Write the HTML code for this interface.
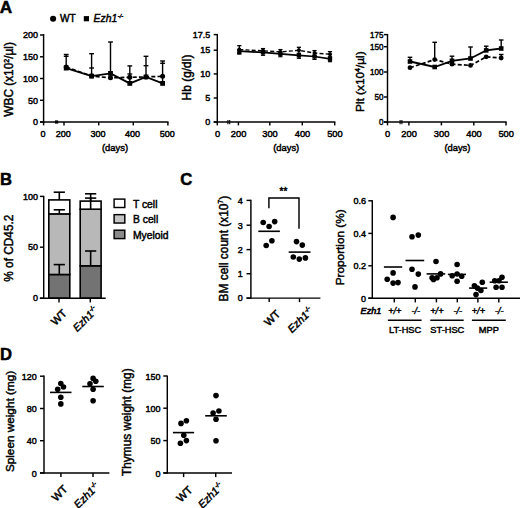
<!DOCTYPE html>
<html><head><meta charset="utf-8"><title>Figure</title>
<style>
html,body{margin:0;padding:0;background:#fff;}
body{width:520px;height:508px;overflow:hidden;font-family:"Liberation Sans",sans-serif;}
svg{display:block;}
svg text{font-family:"Liberation Sans",sans-serif;fill:#000;stroke:#000;stroke-width:0.45px;}
</style></head><body>
<svg width="520" height="508" viewBox="0 0 520 508">
<rect width="520" height="508" fill="#fff"/>
<text transform="translate(-0.2 12.6) scale(1.0 1)" font-size="17.2" font-weight="bold" style="stroke-width:0.5px">A</text>
<text transform="translate(0.0 184.8) scale(0.97 1)" font-size="17.2" font-weight="bold" style="stroke-width:0.5px">B</text>
<text transform="translate(180.3 184.7) scale(0.97 1)" font-size="17.2" font-weight="bold" style="stroke-width:0.5px">C</text>
<text transform="translate(0.0 359.5) scale(0.97 1)" font-size="17.2" font-weight="bold" style="stroke-width:0.5px">D</text>
<circle cx="53.10" cy="18.70" r="3.05" fill="#000"/>
<text transform="translate(60.00 22.40)" font-size="10.1" text-anchor="start" font-weight="normal" font-style="normal" >WT</text>
<rect x="83.80" y="16.10" width="5.2" height="5.2" fill="#000"/>
<text transform="translate(93.60 22.40)" font-size="10.35" text-anchor="start" font-weight="normal" font-style="italic" >Ezh1<tspan font-size="5.6" dy="-4.4" dx="0.6">-/-</tspan></text>
<line x1="43.60" y1="34.00" x2="43.60" y2="122.60" stroke="#000" stroke-width="1.45" stroke-linecap="butt"/>
<line x1="40.00" y1="35.00" x2="43.60" y2="35.00" stroke="#000" stroke-width="1.45" stroke-linecap="butt"/>
<text transform="translate(38.00 38.20)" font-size="9" text-anchor="end" font-weight="normal" font-style="normal" >200</text>
<line x1="40.00" y1="56.80" x2="43.60" y2="56.80" stroke="#000" stroke-width="1.45" stroke-linecap="butt"/>
<text transform="translate(38.00 60.00)" font-size="9" text-anchor="end" font-weight="normal" font-style="normal" >150</text>
<line x1="40.00" y1="78.50" x2="43.60" y2="78.50" stroke="#000" stroke-width="1.45" stroke-linecap="butt"/>
<text transform="translate(38.00 81.70)" font-size="9" text-anchor="end" font-weight="normal" font-style="normal" >100</text>
<line x1="40.00" y1="100.30" x2="43.60" y2="100.30" stroke="#000" stroke-width="1.45" stroke-linecap="butt"/>
<text transform="translate(38.00 103.50)" font-size="9" text-anchor="end" font-weight="normal" font-style="normal" >50</text>
<line x1="40.00" y1="122.00" x2="43.60" y2="122.00" stroke="#000" stroke-width="1.45" stroke-linecap="butt"/>
<text transform="translate(38.00 125.20)" font-size="9" text-anchor="end" font-weight="normal" font-style="normal" >0</text>
<line x1="40.00" y1="122.00" x2="168.50" y2="122.00" stroke="#000" stroke-width="1.45" stroke-linecap="butt"/>
<line x1="43.60" y1="122.00" x2="43.60" y2="125.40" stroke="#000" stroke-width="1.45" stroke-linecap="butt"/>
<text transform="translate(42.90 137.00)" font-size="9.05" text-anchor="middle" font-weight="normal" font-style="normal" >0</text>
<line x1="64.00" y1="122.00" x2="64.00" y2="125.40" stroke="#000" stroke-width="1.45" stroke-linecap="butt"/>
<text transform="translate(63.30 137.00)" font-size="9.05" text-anchor="middle" font-weight="normal" font-style="normal" >200</text>
<line x1="98.70" y1="122.00" x2="98.70" y2="125.40" stroke="#000" stroke-width="1.45" stroke-linecap="butt"/>
<text transform="translate(98.00 137.00)" font-size="9.05" text-anchor="middle" font-weight="normal" font-style="normal" >300</text>
<line x1="133.30" y1="122.00" x2="133.30" y2="125.40" stroke="#000" stroke-width="1.45" stroke-linecap="butt"/>
<text transform="translate(132.60 137.00)" font-size="9.05" text-anchor="middle" font-weight="normal" font-style="normal" >400</text>
<line x1="167.90" y1="122.00" x2="167.90" y2="125.40" stroke="#000" stroke-width="1.45" stroke-linecap="butt"/>
<text transform="translate(167.20 137.00)" font-size="9.05" text-anchor="middle" font-weight="normal" font-style="normal" >500</text>
<text transform="translate(115.00 150.60)" font-size="9.4" text-anchor="middle" font-weight="normal" font-style="normal" >(days)</text>
<text transform="translate(13.30 79.40) rotate(-90)" font-size="11.85" text-anchor="middle" font-weight="normal" font-style="normal" >WBC (x10<tspan font-size="7" dy="-4">2</tspan><tspan dy="4">/µl)</tspan></text>
<rect x="55.00" y="120.40" width="3.2" height="3.2" fill="#000"/>
<line x1="66.20" y1="68.10" x2="66.20" y2="54.50" stroke="#000" stroke-width="1.4" stroke-linecap="butt"/>
<line x1="63.80" y1="54.50" x2="68.60" y2="54.50" stroke="#000" stroke-width="1.4" stroke-linecap="butt"/>
<line x1="63.80" y1="56.30" x2="68.60" y2="56.30" stroke="#000" stroke-width="1.4" stroke-linecap="butt"/>
<line x1="91.60" y1="76.10" x2="91.60" y2="53.70" stroke="#000" stroke-width="1.4" stroke-linecap="butt"/>
<line x1="89.20" y1="53.70" x2="94.00" y2="53.70" stroke="#000" stroke-width="1.4" stroke-linecap="butt"/>
<line x1="89.20" y1="68.00" x2="94.00" y2="68.00" stroke="#000" stroke-width="1.4" stroke-linecap="butt"/>
<line x1="110.50" y1="77.80" x2="110.50" y2="42.00" stroke="#000" stroke-width="1.4" stroke-linecap="butt"/>
<line x1="108.10" y1="42.00" x2="112.90" y2="42.00" stroke="#000" stroke-width="1.4" stroke-linecap="butt"/>
<line x1="129.80" y1="83.40" x2="129.80" y2="65.90" stroke="#000" stroke-width="1.4" stroke-linecap="butt"/>
<line x1="127.40" y1="65.90" x2="132.20" y2="65.90" stroke="#000" stroke-width="1.4" stroke-linecap="butt"/>
<line x1="127.40" y1="74.00" x2="132.20" y2="74.00" stroke="#000" stroke-width="1.4" stroke-linecap="butt"/>
<line x1="146.00" y1="76.90" x2="146.00" y2="56.30" stroke="#000" stroke-width="1.4" stroke-linecap="butt"/>
<line x1="143.60" y1="56.30" x2="148.40" y2="56.30" stroke="#000" stroke-width="1.4" stroke-linecap="butt"/>
<line x1="143.60" y1="65.70" x2="148.40" y2="65.70" stroke="#000" stroke-width="1.4" stroke-linecap="butt"/>
<line x1="162.60" y1="83.40" x2="162.60" y2="61.00" stroke="#000" stroke-width="1.4" stroke-linecap="butt"/>
<line x1="160.20" y1="61.00" x2="165.00" y2="61.00" stroke="#000" stroke-width="1.4" stroke-linecap="butt"/>
<line x1="160.20" y1="63.30" x2="165.00" y2="63.30" stroke="#000" stroke-width="1.4" stroke-linecap="butt"/>
<polyline points="66.20,67.00 91.60,76.10 110.50,77.80 129.80,77.30 146.00,76.90 162.60,76.30" fill="none" stroke="#000" stroke-width="1.7" stroke-dasharray="4 2.2"/>
<polyline points="66.20,68.10 91.60,76.10 110.50,73.40 129.80,83.40 146.00,76.90 162.60,83.40" fill="none" stroke="#000" stroke-width="1.8"/>
<circle cx="66.20" cy="67.00" r="2.5" fill="#000"/>
<circle cx="91.60" cy="76.10" r="2.5" fill="#000"/>
<circle cx="110.50" cy="77.80" r="2.5" fill="#000"/>
<circle cx="129.80" cy="77.30" r="2.5" fill="#000"/>
<circle cx="146.00" cy="76.90" r="2.5" fill="#000"/>
<circle cx="162.60" cy="76.30" r="2.5" fill="#000"/>
<rect x="63.80" y="65.70" width="4.8" height="4.8" fill="#000"/>
<rect x="89.20" y="73.70" width="4.8" height="4.8" fill="#000"/>
<rect x="108.10" y="71.00" width="4.8" height="4.8" fill="#000"/>
<rect x="127.40" y="81.00" width="4.8" height="4.8" fill="#000"/>
<rect x="143.60" y="74.50" width="4.8" height="4.8" fill="#000"/>
<rect x="160.20" y="81.00" width="4.8" height="4.8" fill="#000"/>
<line x1="217.30" y1="34.00" x2="217.30" y2="122.60" stroke="#000" stroke-width="1.45" stroke-linecap="butt"/>
<line x1="213.70" y1="34.60" x2="217.30" y2="34.60" stroke="#000" stroke-width="1.45" stroke-linecap="butt"/>
<text transform="translate(210.30 37.80)" font-size="9" text-anchor="end" font-weight="normal" font-style="normal" >17.5</text>
<line x1="213.70" y1="50.20" x2="217.30" y2="50.20" stroke="#000" stroke-width="1.45" stroke-linecap="butt"/>
<text transform="translate(210.30 53.40)" font-size="9" text-anchor="end" font-weight="normal" font-style="normal" >15</text>
<line x1="213.70" y1="73.90" x2="217.30" y2="73.90" stroke="#000" stroke-width="1.45" stroke-linecap="butt"/>
<text transform="translate(210.30 77.10)" font-size="9" text-anchor="end" font-weight="normal" font-style="normal" >10</text>
<line x1="213.70" y1="98.00" x2="217.30" y2="98.00" stroke="#000" stroke-width="1.45" stroke-linecap="butt"/>
<text transform="translate(210.30 101.20)" font-size="9" text-anchor="end" font-weight="normal" font-style="normal" >5</text>
<line x1="213.70" y1="122.00" x2="217.30" y2="122.00" stroke="#000" stroke-width="1.45" stroke-linecap="butt"/>
<text transform="translate(210.30 125.20)" font-size="9" text-anchor="end" font-weight="normal" font-style="normal" >0</text>
<line x1="213.70" y1="122.00" x2="335.30" y2="122.00" stroke="#000" stroke-width="1.45" stroke-linecap="butt"/>
<line x1="217.30" y1="122.00" x2="217.30" y2="125.40" stroke="#000" stroke-width="1.45" stroke-linecap="butt"/>
<text transform="translate(217.50 137.00)" font-size="9.3" text-anchor="middle" font-weight="normal" font-style="normal" >0</text>
<line x1="238.40" y1="122.00" x2="238.40" y2="125.40" stroke="#000" stroke-width="1.45" stroke-linecap="butt"/>
<text transform="translate(238.60 137.00)" font-size="9.3" text-anchor="middle" font-weight="normal" font-style="normal" >200</text>
<line x1="269.80" y1="122.00" x2="269.80" y2="125.40" stroke="#000" stroke-width="1.45" stroke-linecap="butt"/>
<text transform="translate(270.00 137.00)" font-size="9.3" text-anchor="middle" font-weight="normal" font-style="normal" >300</text>
<line x1="302.30" y1="122.00" x2="302.30" y2="125.40" stroke="#000" stroke-width="1.45" stroke-linecap="butt"/>
<text transform="translate(302.50 137.00)" font-size="9.3" text-anchor="middle" font-weight="normal" font-style="normal" >400</text>
<line x1="334.70" y1="122.00" x2="334.70" y2="125.40" stroke="#000" stroke-width="1.45" stroke-linecap="butt"/>
<text transform="translate(334.90 137.00)" font-size="9.3" text-anchor="middle" font-weight="normal" font-style="normal" >500</text>
<text transform="translate(286.20 150.60)" font-size="9.4" text-anchor="middle" font-weight="normal" font-style="normal" >(days)</text>
<text transform="translate(190.80 77.50) rotate(-90)" font-size="11.95" text-anchor="middle" font-weight="normal" font-style="normal" >Hb (g/dl)</text>
<line x1="227.90" y1="120.00" x2="227.90" y2="124.20" stroke="#000" stroke-width="1.1" stroke-linecap="butt"/>
<line x1="229.70" y1="120.00" x2="229.70" y2="124.20" stroke="#000" stroke-width="1.1" stroke-linecap="butt"/>
<line x1="239.30" y1="49.60" x2="239.30" y2="45.70" stroke="#000" stroke-width="1.3" stroke-linecap="butt"/>
<line x1="237.20" y1="45.70" x2="241.40" y2="45.70" stroke="#000" stroke-width="1.3" stroke-linecap="butt"/>
<line x1="239.30" y1="49.60" x2="239.30" y2="53.50" stroke="#000" stroke-width="1.3" stroke-linecap="butt"/>
<line x1="237.20" y1="53.50" x2="241.40" y2="53.50" stroke="#000" stroke-width="1.3" stroke-linecap="butt"/>
<line x1="263.00" y1="50.80" x2="263.00" y2="48.60" stroke="#000" stroke-width="1.3" stroke-linecap="butt"/>
<line x1="260.90" y1="48.60" x2="265.10" y2="48.60" stroke="#000" stroke-width="1.3" stroke-linecap="butt"/>
<line x1="263.00" y1="50.80" x2="263.00" y2="53.00" stroke="#000" stroke-width="1.3" stroke-linecap="butt"/>
<line x1="260.90" y1="53.00" x2="265.10" y2="53.00" stroke="#000" stroke-width="1.3" stroke-linecap="butt"/>
<line x1="280.40" y1="51.90" x2="280.40" y2="49.60" stroke="#000" stroke-width="1.3" stroke-linecap="butt"/>
<line x1="278.30" y1="49.60" x2="282.50" y2="49.60" stroke="#000" stroke-width="1.3" stroke-linecap="butt"/>
<line x1="280.40" y1="51.90" x2="280.40" y2="54.20" stroke="#000" stroke-width="1.3" stroke-linecap="butt"/>
<line x1="278.30" y1="54.20" x2="282.50" y2="54.20" stroke="#000" stroke-width="1.3" stroke-linecap="butt"/>
<line x1="298.90" y1="50.30" x2="298.90" y2="47.30" stroke="#000" stroke-width="1.3" stroke-linecap="butt"/>
<line x1="296.80" y1="47.30" x2="301.00" y2="47.30" stroke="#000" stroke-width="1.3" stroke-linecap="butt"/>
<line x1="298.90" y1="50.30" x2="298.90" y2="53.30" stroke="#000" stroke-width="1.3" stroke-linecap="butt"/>
<line x1="296.80" y1="53.30" x2="301.00" y2="53.30" stroke="#000" stroke-width="1.3" stroke-linecap="butt"/>
<line x1="314.50" y1="53.10" x2="314.50" y2="50.60" stroke="#000" stroke-width="1.3" stroke-linecap="butt"/>
<line x1="312.40" y1="50.60" x2="316.60" y2="50.60" stroke="#000" stroke-width="1.3" stroke-linecap="butt"/>
<line x1="314.50" y1="53.10" x2="314.50" y2="55.60" stroke="#000" stroke-width="1.3" stroke-linecap="butt"/>
<line x1="312.40" y1="55.60" x2="316.60" y2="55.60" stroke="#000" stroke-width="1.3" stroke-linecap="butt"/>
<line x1="330.00" y1="54.20" x2="330.00" y2="51.60" stroke="#000" stroke-width="1.3" stroke-linecap="butt"/>
<line x1="327.90" y1="51.60" x2="332.10" y2="51.60" stroke="#000" stroke-width="1.3" stroke-linecap="butt"/>
<line x1="330.00" y1="54.20" x2="330.00" y2="56.80" stroke="#000" stroke-width="1.3" stroke-linecap="butt"/>
<line x1="327.90" y1="56.80" x2="332.10" y2="56.80" stroke="#000" stroke-width="1.3" stroke-linecap="butt"/>
<line x1="239.30" y1="51.20" x2="239.30" y2="54.10" stroke="#000" stroke-width="1.2" stroke-linecap="butt"/>
<line x1="237.20" y1="54.10" x2="241.40" y2="54.10" stroke="#000" stroke-width="1.2" stroke-linecap="butt"/>
<line x1="263.00" y1="52.40" x2="263.00" y2="55.30" stroke="#000" stroke-width="1.2" stroke-linecap="butt"/>
<line x1="260.90" y1="55.30" x2="265.10" y2="55.30" stroke="#000" stroke-width="1.2" stroke-linecap="butt"/>
<line x1="280.40" y1="53.80" x2="280.40" y2="56.70" stroke="#000" stroke-width="1.2" stroke-linecap="butt"/>
<line x1="278.30" y1="56.70" x2="282.50" y2="56.70" stroke="#000" stroke-width="1.2" stroke-linecap="butt"/>
<line x1="298.90" y1="55.40" x2="298.90" y2="58.30" stroke="#000" stroke-width="1.2" stroke-linecap="butt"/>
<line x1="296.80" y1="58.30" x2="301.00" y2="58.30" stroke="#000" stroke-width="1.2" stroke-linecap="butt"/>
<line x1="314.50" y1="56.50" x2="314.50" y2="59.40" stroke="#000" stroke-width="1.2" stroke-linecap="butt"/>
<line x1="312.40" y1="59.40" x2="316.60" y2="59.40" stroke="#000" stroke-width="1.2" stroke-linecap="butt"/>
<line x1="330.00" y1="58.80" x2="330.00" y2="61.70" stroke="#000" stroke-width="1.2" stroke-linecap="butt"/>
<line x1="327.90" y1="61.70" x2="332.10" y2="61.70" stroke="#000" stroke-width="1.2" stroke-linecap="butt"/>
<polyline points="239.30,49.60 263.00,50.80 280.40,51.90 298.90,50.30 314.50,53.10 330.00,54.20" fill="none" stroke="#000" stroke-width="1.4" stroke-dasharray="4 2.2"/>
<polyline points="239.30,51.20 263.00,52.40 280.40,53.80 298.90,55.40 314.50,56.50 330.00,58.80" fill="none" stroke="#000" stroke-width="1.7"/>
<circle cx="239.30" cy="49.60" r="2.0" fill="#000"/>
<circle cx="263.00" cy="50.80" r="2.0" fill="#000"/>
<circle cx="280.40" cy="51.90" r="2.0" fill="#000"/>
<circle cx="298.90" cy="50.30" r="2.0" fill="#000"/>
<circle cx="314.50" cy="53.10" r="2.0" fill="#000"/>
<circle cx="330.00" cy="54.20" r="2.0" fill="#000"/>
<rect x="237.15" y="49.05" width="4.3" height="4.3" fill="#000"/>
<rect x="260.85" y="50.25" width="4.3" height="4.3" fill="#000"/>
<rect x="278.25" y="51.65" width="4.3" height="4.3" fill="#000"/>
<rect x="296.75" y="53.25" width="4.3" height="4.3" fill="#000"/>
<rect x="312.35" y="54.35" width="4.3" height="4.3" fill="#000"/>
<rect x="327.85" y="56.65" width="4.3" height="4.3" fill="#000"/>
<line x1="387.50" y1="34.00" x2="387.50" y2="122.60" stroke="#000" stroke-width="1.45" stroke-linecap="butt"/>
<line x1="383.90" y1="34.60" x2="387.50" y2="34.60" stroke="#000" stroke-width="1.45" stroke-linecap="butt"/>
<text transform="translate(383.50 37.80) scale(0.9 1)" font-size="9" text-anchor="end" font-weight="normal" font-style="normal" >175</text>
<line x1="383.90" y1="46.70" x2="387.50" y2="46.70" stroke="#000" stroke-width="1.45" stroke-linecap="butt"/>
<text transform="translate(383.50 49.90) scale(0.9 1)" font-size="9" text-anchor="end" font-weight="normal" font-style="normal" >150</text>
<line x1="383.90" y1="72.00" x2="387.50" y2="72.00" stroke="#000" stroke-width="1.45" stroke-linecap="butt"/>
<text transform="translate(383.50 75.20) scale(0.9 1)" font-size="9" text-anchor="end" font-weight="normal" font-style="normal" >100</text>
<line x1="383.90" y1="97.00" x2="387.50" y2="97.00" stroke="#000" stroke-width="1.45" stroke-linecap="butt"/>
<text transform="translate(383.50 100.20) scale(0.9 1)" font-size="9" text-anchor="end" font-weight="normal" font-style="normal" >50</text>
<line x1="383.90" y1="122.00" x2="387.50" y2="122.00" stroke="#000" stroke-width="1.45" stroke-linecap="butt"/>
<text transform="translate(383.50 125.20) scale(0.9 1)" font-size="9" text-anchor="end" font-weight="normal" font-style="normal" >0</text>
<line x1="383.90" y1="122.00" x2="506.60" y2="122.00" stroke="#000" stroke-width="1.45" stroke-linecap="butt"/>
<line x1="387.50" y1="122.00" x2="387.50" y2="125.40" stroke="#000" stroke-width="1.45" stroke-linecap="butt"/>
<text transform="translate(387.70 137.00)" font-size="9.3" text-anchor="middle" font-weight="normal" font-style="normal" >0</text>
<line x1="408.90" y1="122.00" x2="408.90" y2="125.40" stroke="#000" stroke-width="1.45" stroke-linecap="butt"/>
<text transform="translate(409.10 137.00)" font-size="9.3" text-anchor="middle" font-weight="normal" font-style="normal" >200</text>
<line x1="441.40" y1="122.00" x2="441.40" y2="125.40" stroke="#000" stroke-width="1.45" stroke-linecap="butt"/>
<text transform="translate(441.60 137.00)" font-size="9.3" text-anchor="middle" font-weight="normal" font-style="normal" >300</text>
<line x1="473.80" y1="122.00" x2="473.80" y2="125.40" stroke="#000" stroke-width="1.45" stroke-linecap="butt"/>
<text transform="translate(474.00 137.00)" font-size="9.3" text-anchor="middle" font-weight="normal" font-style="normal" >400</text>
<line x1="506.00" y1="122.00" x2="506.00" y2="125.40" stroke="#000" stroke-width="1.45" stroke-linecap="butt"/>
<text transform="translate(506.20 137.00)" font-size="9.3" text-anchor="middle" font-weight="normal" font-style="normal" >500</text>
<text transform="translate(457.40 150.60)" font-size="9.4" text-anchor="middle" font-weight="normal" font-style="normal" >(days)</text>
<text transform="translate(363.50 81.70) rotate(-90)" font-size="11.8" text-anchor="middle" font-weight="normal" font-style="normal" >Plt (x10<tspan font-size="7" dy="-4">4</tspan><tspan dy="4">/µl)</tspan></text>
<line x1="400.10" y1="120.00" x2="400.10" y2="124.20" stroke="#000" stroke-width="1.1" stroke-linecap="butt"/>
<line x1="401.90" y1="120.00" x2="401.90" y2="124.20" stroke="#000" stroke-width="1.1" stroke-linecap="butt"/>
<line x1="410.00" y1="61.50" x2="410.00" y2="57.30" stroke="#000" stroke-width="1.4" stroke-linecap="butt"/>
<line x1="407.70" y1="57.30" x2="412.30" y2="57.30" stroke="#000" stroke-width="1.4" stroke-linecap="butt"/>
<line x1="434.70" y1="59.60" x2="434.70" y2="42.30" stroke="#000" stroke-width="1.4" stroke-linecap="butt"/>
<line x1="432.40" y1="42.30" x2="437.00" y2="42.30" stroke="#000" stroke-width="1.4" stroke-linecap="butt"/>
<line x1="452.00" y1="60.80" x2="452.00" y2="56.20" stroke="#000" stroke-width="1.4" stroke-linecap="butt"/>
<line x1="449.70" y1="56.20" x2="454.30" y2="56.20" stroke="#000" stroke-width="1.4" stroke-linecap="butt"/>
<line x1="470.50" y1="58.50" x2="470.50" y2="47.00" stroke="#000" stroke-width="1.4" stroke-linecap="butt"/>
<line x1="468.20" y1="47.00" x2="472.80" y2="47.00" stroke="#000" stroke-width="1.4" stroke-linecap="butt"/>
<line x1="486.20" y1="50.40" x2="486.20" y2="46.20" stroke="#000" stroke-width="1.4" stroke-linecap="butt"/>
<line x1="483.90" y1="46.20" x2="488.50" y2="46.20" stroke="#000" stroke-width="1.4" stroke-linecap="butt"/>
<line x1="501.20" y1="48.50" x2="501.20" y2="40.00" stroke="#000" stroke-width="1.4" stroke-linecap="butt"/>
<line x1="498.90" y1="40.00" x2="503.50" y2="40.00" stroke="#000" stroke-width="1.4" stroke-linecap="butt"/>
<line x1="501.20" y1="58.00" x2="501.20" y2="54.50" stroke="#000" stroke-width="1.4" stroke-linecap="butt"/>
<line x1="498.90" y1="54.50" x2="503.50" y2="54.50" stroke="#000" stroke-width="1.4" stroke-linecap="butt"/>
<polyline points="410.00,67.70 434.70,59.60 452.00,64.20 470.50,65.40 486.20,56.80 501.20,58.00" fill="none" stroke="#000" stroke-width="1.7" stroke-dasharray="4 2.2"/>
<polyline points="410.00,61.50 434.70,67.00 452.00,60.80 470.50,58.50 486.20,50.40 501.20,48.50" fill="none" stroke="#000" stroke-width="1.8"/>
<circle cx="410.00" cy="67.70" r="2.4" fill="#000"/>
<circle cx="434.70" cy="59.60" r="2.4" fill="#000"/>
<circle cx="452.00" cy="64.20" r="2.4" fill="#000"/>
<circle cx="470.50" cy="65.40" r="2.4" fill="#000"/>
<circle cx="486.20" cy="56.80" r="2.4" fill="#000"/>
<circle cx="501.20" cy="58.00" r="2.4" fill="#000"/>
<rect x="407.70" y="59.20" width="4.6" height="4.6" fill="#000"/>
<rect x="432.40" y="64.70" width="4.6" height="4.6" fill="#000"/>
<rect x="449.70" y="58.50" width="4.6" height="4.6" fill="#000"/>
<rect x="468.20" y="56.20" width="4.6" height="4.6" fill="#000"/>
<rect x="483.90" y="48.10" width="4.6" height="4.6" fill="#000"/>
<rect x="498.90" y="46.20" width="4.6" height="4.6" fill="#000"/>
<rect x="48.8" y="274.5" width="21.0" height="23.69999999999999" fill="#737373" stroke="#000" stroke-width="1.6"/>
<rect x="48.8" y="213.9" width="21.0" height="60.599999999999994" fill="#b8b8b8" stroke="#000" stroke-width="1.6"/>
<rect x="48.8" y="199.9" width="21.0" height="14.0" fill="#fff" stroke="#000" stroke-width="1.6"/>
<line x1="59.30" y1="199.90" x2="59.30" y2="192.20" stroke="#000" stroke-width="1.6" stroke-linecap="butt"/>
<line x1="53.70" y1="192.20" x2="64.90" y2="192.20" stroke="#000" stroke-width="1.6" stroke-linecap="butt"/>
<line x1="59.30" y1="213.90" x2="59.30" y2="209.80" stroke="#000" stroke-width="1.6" stroke-linecap="butt"/>
<line x1="53.70" y1="209.80" x2="64.90" y2="209.80" stroke="#000" stroke-width="1.6" stroke-linecap="butt"/>
<line x1="59.30" y1="274.50" x2="59.30" y2="264.60" stroke="#000" stroke-width="1.6" stroke-linecap="butt"/>
<line x1="53.70" y1="264.60" x2="64.90" y2="264.60" stroke="#000" stroke-width="1.6" stroke-linecap="butt"/>
<rect x="80.2" y="265.8" width="20.89999999999999" height="32.39999999999998" fill="#737373" stroke="#000" stroke-width="1.6"/>
<rect x="80.2" y="209.2" width="20.89999999999999" height="56.60000000000002" fill="#b8b8b8" stroke="#000" stroke-width="1.6"/>
<rect x="80.2" y="201.1" width="20.89999999999999" height="8.099999999999994" fill="#fff" stroke="#000" stroke-width="1.6"/>
<line x1="90.65" y1="201.10" x2="90.65" y2="193.80" stroke="#000" stroke-width="1.6" stroke-linecap="butt"/>
<line x1="85.05" y1="193.80" x2="96.25" y2="193.80" stroke="#000" stroke-width="1.6" stroke-linecap="butt"/>
<line x1="90.65" y1="209.20" x2="90.65" y2="198.10" stroke="#000" stroke-width="1.6" stroke-linecap="butt"/>
<line x1="85.05" y1="198.10" x2="96.25" y2="198.10" stroke="#000" stroke-width="1.6" stroke-linecap="butt"/>
<line x1="90.65" y1="265.80" x2="90.65" y2="251.00" stroke="#000" stroke-width="1.6" stroke-linecap="butt"/>
<line x1="85.05" y1="251.00" x2="96.25" y2="251.00" stroke="#000" stroke-width="1.6" stroke-linecap="butt"/>
<line x1="43.70" y1="195.80" x2="43.70" y2="298.80" stroke="#000" stroke-width="1.45" stroke-linecap="butt"/>
<line x1="39.90" y1="196.40" x2="43.70" y2="196.40" stroke="#000" stroke-width="1.45" stroke-linecap="butt"/>
<text transform="translate(38.10 199.60)" font-size="9" text-anchor="end" font-weight="normal" font-style="normal" >100</text>
<line x1="39.90" y1="247.20" x2="43.70" y2="247.20" stroke="#000" stroke-width="1.45" stroke-linecap="butt"/>
<text transform="translate(38.10 250.40)" font-size="9" text-anchor="end" font-weight="normal" font-style="normal" >50</text>
<line x1="39.90" y1="298.20" x2="43.70" y2="298.20" stroke="#000" stroke-width="1.45" stroke-linecap="butt"/>
<text transform="translate(38.10 301.40)" font-size="9" text-anchor="end" font-weight="normal" font-style="normal" >0</text>
<line x1="39.90" y1="298.20" x2="105.70" y2="298.20" stroke="#000" stroke-width="1.45" stroke-linecap="butt"/>
<line x1="59.00" y1="298.20" x2="59.00" y2="302.40" stroke="#000" stroke-width="1.45" stroke-linecap="butt"/>
<line x1="90.30" y1="298.20" x2="90.30" y2="302.40" stroke="#000" stroke-width="1.45" stroke-linecap="butt"/>
<text transform="translate(13.00 248.20) rotate(-90)" font-size="11.85" text-anchor="middle" font-weight="normal" font-style="normal" >% of CD45.2</text>
<text transform="translate(67.50 314.00) rotate(-45)" font-size="11" text-anchor="end" font-weight="normal" font-style="normal" >WT</text>
<text transform="translate(98.60 310.90) rotate(-45)" font-size="10.6" text-anchor="end" font-weight="normal" font-style="italic" >Ezh1<tspan font-size="6.4" dy="-4.2">-/-</tspan></text>
<rect x="114.1" y="199.10" width="10.7" height="8.4" fill="#fff" stroke="#000" stroke-width="1.45"/>
<text transform="translate(133.00 207.90)" font-size="10.3" text-anchor="start" font-weight="normal" font-style="normal" >T cell</text>
<rect x="114.1" y="214.65" width="10.7" height="8.4" fill="#c4c4c4" stroke="#000" stroke-width="1.45"/>
<text transform="translate(133.00 223.45)" font-size="10.3" text-anchor="start" font-weight="normal" font-style="normal" >B cell</text>
<rect x="114.1" y="230.20" width="10.7" height="8.4" fill="#8a8a8a" stroke="#000" stroke-width="1.45"/>
<text transform="translate(133.00 239.00)" font-size="10.3" text-anchor="start" font-weight="normal" font-style="normal" >Myeloid</text>
<line x1="250.90" y1="199.80" x2="250.90" y2="298.70" stroke="#000" stroke-width="1.45" stroke-linecap="butt"/>
<line x1="246.50" y1="200.40" x2="250.90" y2="200.40" stroke="#000" stroke-width="1.45" stroke-linecap="butt"/>
<text transform="translate(242.70 203.70)" font-size="9" text-anchor="end" font-weight="normal" font-style="normal" >4</text>
<line x1="246.50" y1="225.20" x2="250.90" y2="225.20" stroke="#000" stroke-width="1.45" stroke-linecap="butt"/>
<text transform="translate(242.70 228.50)" font-size="9" text-anchor="end" font-weight="normal" font-style="normal" >3</text>
<line x1="246.50" y1="249.60" x2="250.90" y2="249.60" stroke="#000" stroke-width="1.45" stroke-linecap="butt"/>
<text transform="translate(242.70 252.90)" font-size="9" text-anchor="end" font-weight="normal" font-style="normal" >2</text>
<line x1="246.50" y1="273.70" x2="250.90" y2="273.70" stroke="#000" stroke-width="1.45" stroke-linecap="butt"/>
<text transform="translate(242.70 277.00)" font-size="9" text-anchor="end" font-weight="normal" font-style="normal" >1</text>
<line x1="246.50" y1="298.10" x2="250.90" y2="298.10" stroke="#000" stroke-width="1.45" stroke-linecap="butt"/>
<text transform="translate(242.70 301.40)" font-size="9" text-anchor="end" font-weight="normal" font-style="normal" >0</text>
<line x1="246.50" y1="298.10" x2="320.40" y2="298.10" stroke="#000" stroke-width="1.45" stroke-linecap="butt"/>
<line x1="269.20" y1="298.10" x2="269.20" y2="302.10" stroke="#000" stroke-width="1.45" stroke-linecap="butt"/>
<line x1="299.50" y1="298.10" x2="299.50" y2="302.10" stroke="#000" stroke-width="1.45" stroke-linecap="butt"/>
<text transform="translate(227.50 248.60) rotate(-90)" font-size="11.9" text-anchor="middle" font-weight="normal" font-style="normal" >BM cell count (x10<tspan font-size="7" dy="-4.3">7</tspan><tspan dy="4.3">)</tspan></text>
<polyline points="268.9,208.3 268.9,197.9 299.0,197.9 299.0,228.7" fill="none" stroke="#000" stroke-width="1.45"/>
<text transform="translate(283.50 195.30)" font-size="10" text-anchor="middle" font-weight="normal" font-style="normal" >**</text>
<circle cx="263.20" cy="222.50" r="2.8" fill="#000"/>
<circle cx="274.70" cy="221.60" r="2.8" fill="#000"/>
<circle cx="269.10" cy="226.50" r="2.8" fill="#000"/>
<circle cx="271.90" cy="240.70" r="2.8" fill="#000"/>
<circle cx="266.20" cy="245.50" r="2.8" fill="#000"/>
<circle cx="296.50" cy="241.60" r="2.8" fill="#000"/>
<circle cx="302.30" cy="245.10" r="2.8" fill="#000"/>
<circle cx="293.30" cy="257.00" r="2.8" fill="#000"/>
<circle cx="299.30" cy="259.10" r="2.8" fill="#000"/>
<circle cx="305.40" cy="257.90" r="2.8" fill="#000"/>
<line x1="258.30" y1="231.30" x2="279.90" y2="231.30" stroke="#000" stroke-width="1.6" stroke-linecap="butt"/>
<line x1="288.70" y1="252.10" x2="310.50" y2="252.10" stroke="#000" stroke-width="1.6" stroke-linecap="butt"/>
<text transform="translate(280.90 314.70) rotate(-45)" font-size="11" text-anchor="end" font-weight="normal" font-style="normal" >WT</text>
<text transform="translate(313.70 311.70) rotate(-45)" font-size="10.8" text-anchor="end" font-weight="normal" font-style="italic" >Ezh1<tspan font-size="6.4" dy="-4.2">-/-</tspan></text>
<line x1="372.30" y1="200.20" x2="372.30" y2="298.80" stroke="#000" stroke-width="1.45" stroke-linecap="butt"/>
<line x1="368.30" y1="200.80" x2="372.30" y2="200.80" stroke="#000" stroke-width="1.45" stroke-linecap="butt"/>
<text transform="translate(365.90 204.10)" font-size="9" text-anchor="end" font-weight="normal" font-style="normal" >0.6</text>
<line x1="368.30" y1="233.40" x2="372.30" y2="233.40" stroke="#000" stroke-width="1.45" stroke-linecap="butt"/>
<text transform="translate(365.90 236.70)" font-size="9" text-anchor="end" font-weight="normal" font-style="normal" >0.4</text>
<line x1="368.30" y1="265.80" x2="372.30" y2="265.80" stroke="#000" stroke-width="1.45" stroke-linecap="butt"/>
<text transform="translate(365.90 269.10)" font-size="9" text-anchor="end" font-weight="normal" font-style="normal" >0.2</text>
<line x1="368.30" y1="298.20" x2="372.30" y2="298.20" stroke="#000" stroke-width="1.45" stroke-linecap="butt"/>
<text transform="translate(365.90 301.50)" font-size="9" text-anchor="end" font-weight="normal" font-style="normal" >0</text>
<line x1="368.30" y1="298.20" x2="520.00" y2="298.20" stroke="#000" stroke-width="1.45" stroke-linecap="butt"/>
<line x1="394.30" y1="298.20" x2="394.30" y2="302.40" stroke="#000" stroke-width="1.45" stroke-linecap="butt"/>
<line x1="415.30" y1="298.20" x2="415.30" y2="302.40" stroke="#000" stroke-width="1.45" stroke-linecap="butt"/>
<line x1="436.40" y1="298.20" x2="436.40" y2="302.40" stroke="#000" stroke-width="1.45" stroke-linecap="butt"/>
<line x1="457.30" y1="298.20" x2="457.30" y2="302.40" stroke="#000" stroke-width="1.45" stroke-linecap="butt"/>
<line x1="477.90" y1="298.20" x2="477.90" y2="302.40" stroke="#000" stroke-width="1.45" stroke-linecap="butt"/>
<line x1="498.80" y1="298.20" x2="498.80" y2="302.40" stroke="#000" stroke-width="1.45" stroke-linecap="butt"/>
<text transform="translate(344.40 247.30) rotate(-90)" font-size="11.8" text-anchor="middle" font-weight="normal" font-style="normal" >Proportion (%)</text>
<circle cx="393.10" cy="217.40" r="2.8" fill="#000"/>
<circle cx="393.10" cy="272.90" r="2.8" fill="#000"/>
<circle cx="387.20" cy="279.20" r="2.8" fill="#000"/>
<circle cx="393.10" cy="283.10" r="2.8" fill="#000"/>
<circle cx="398.00" cy="282.60" r="2.8" fill="#000"/>
<circle cx="412.00" cy="236.70" r="2.8" fill="#000"/>
<circle cx="418.30" cy="235.10" r="2.8" fill="#000"/>
<circle cx="412.00" cy="269.20" r="2.8" fill="#000"/>
<circle cx="418.30" cy="274.10" r="2.8" fill="#000"/>
<circle cx="415.00" cy="286.90" r="2.8" fill="#000"/>
<circle cx="436.00" cy="261.50" r="2.8" fill="#000"/>
<circle cx="432.10" cy="277.80" r="2.8" fill="#000"/>
<circle cx="433.50" cy="279.40" r="2.8" fill="#000"/>
<circle cx="437.00" cy="277.80" r="2.8" fill="#000"/>
<circle cx="440.60" cy="273.90" r="2.8" fill="#000"/>
<circle cx="457.10" cy="264.50" r="2.8" fill="#000"/>
<circle cx="452.20" cy="275.70" r="2.8" fill="#000"/>
<circle cx="457.10" cy="274.00" r="2.8" fill="#000"/>
<circle cx="461.70" cy="276.30" r="2.8" fill="#000"/>
<circle cx="457.10" cy="281.30" r="2.8" fill="#000"/>
<circle cx="474.40" cy="285.80" r="2.8" fill="#000"/>
<circle cx="482.30" cy="282.20" r="2.8" fill="#000"/>
<circle cx="477.40" cy="288.10" r="2.8" fill="#000"/>
<circle cx="480.90" cy="290.50" r="2.8" fill="#000"/>
<circle cx="476.00" cy="294.60" r="2.8" fill="#000"/>
<circle cx="502.00" cy="277.30" r="2.8" fill="#000"/>
<circle cx="494.70" cy="280.70" r="2.8" fill="#000"/>
<circle cx="499.00" cy="280.70" r="2.8" fill="#000"/>
<circle cx="496.10" cy="287.20" r="2.8" fill="#000"/>
<circle cx="502.00" cy="287.20" r="2.8" fill="#000"/>
<line x1="383.90" y1="267.00" x2="402.20" y2="267.00" stroke="#000" stroke-width="1.6" stroke-linecap="butt"/>
<line x1="405.50" y1="260.50" x2="424.20" y2="260.50" stroke="#000" stroke-width="1.6" stroke-linecap="butt"/>
<line x1="426.60" y1="273.90" x2="445.20" y2="273.90" stroke="#000" stroke-width="1.6" stroke-linecap="butt"/>
<line x1="447.90" y1="274.40" x2="466.00" y2="274.40" stroke="#000" stroke-width="1.6" stroke-linecap="butt"/>
<line x1="469.10" y1="288.10" x2="487.20" y2="288.10" stroke="#000" stroke-width="1.6" stroke-linecap="butt"/>
<line x1="489.60" y1="282.20" x2="507.90" y2="282.20" stroke="#000" stroke-width="1.6" stroke-linecap="butt"/>
<text transform="translate(360.60 313.80)" font-size="9.1" text-anchor="start" font-weight="normal" font-style="italic" style="stroke-width:0.6px">Ezh1</text>
<text transform="translate(394.80 313.80)" font-size="9.2" text-anchor="middle" font-weight="normal" font-style="italic" >+/+</text>
<text transform="translate(415.80 313.80)" font-size="9.2" text-anchor="middle" font-weight="normal" font-style="italic" >-/-</text>
<text transform="translate(436.90 313.80)" font-size="9.2" text-anchor="middle" font-weight="normal" font-style="italic" >+/+</text>
<text transform="translate(457.80 313.80)" font-size="9.2" text-anchor="middle" font-weight="normal" font-style="italic" >-/-</text>
<text transform="translate(478.40 313.80)" font-size="9.2" text-anchor="middle" font-weight="normal" font-style="italic" >+/+</text>
<text transform="translate(499.30 313.80)" font-size="9.2" text-anchor="middle" font-weight="normal" font-style="italic" >-/-</text>
<line x1="387.90" y1="320.30" x2="421.60" y2="320.30" stroke="#000" stroke-width="1.4" stroke-linecap="butt"/>
<text transform="translate(405.10 332.80)" font-size="9.25" text-anchor="middle" font-weight="normal" font-style="normal" >LT-HSC</text>
<line x1="430.30" y1="320.30" x2="463.70" y2="320.30" stroke="#000" stroke-width="1.4" stroke-linecap="butt"/>
<text transform="translate(447.30 332.80)" font-size="9.25" text-anchor="middle" font-weight="normal" font-style="normal" >ST-HSC</text>
<line x1="471.90" y1="320.30" x2="505.80" y2="320.30" stroke="#000" stroke-width="1.4" stroke-linecap="butt"/>
<text transform="translate(488.80 332.80)" font-size="9.25" text-anchor="middle" font-weight="normal" font-style="normal" >MPP</text>
<line x1="44.00" y1="375.60" x2="44.00" y2="473.50" stroke="#000" stroke-width="1.45" stroke-linecap="butt"/>
<line x1="40.00" y1="376.20" x2="44.00" y2="376.20" stroke="#000" stroke-width="1.45" stroke-linecap="butt"/>
<text transform="translate(36.70 379.80)" font-size="9" text-anchor="end" font-weight="normal" font-style="normal" >120</text>
<line x1="40.00" y1="408.50" x2="44.00" y2="408.50" stroke="#000" stroke-width="1.45" stroke-linecap="butt"/>
<text transform="translate(36.70 412.10)" font-size="9" text-anchor="end" font-weight="normal" font-style="normal" >80</text>
<line x1="40.00" y1="440.70" x2="44.00" y2="440.70" stroke="#000" stroke-width="1.45" stroke-linecap="butt"/>
<text transform="translate(36.70 444.30)" font-size="9" text-anchor="end" font-weight="normal" font-style="normal" >40</text>
<line x1="40.00" y1="472.90" x2="44.00" y2="472.90" stroke="#000" stroke-width="1.45" stroke-linecap="butt"/>
<text transform="translate(36.70 476.50)" font-size="9" text-anchor="end" font-weight="normal" font-style="normal" >0</text>
<line x1="40.00" y1="472.90" x2="109.40" y2="472.90" stroke="#000" stroke-width="1.45" stroke-linecap="butt"/>
<line x1="60.90" y1="472.90" x2="60.90" y2="477.10" stroke="#000" stroke-width="1.45" stroke-linecap="butt"/>
<line x1="93.00" y1="472.90" x2="93.00" y2="477.10" stroke="#000" stroke-width="1.45" stroke-linecap="butt"/>
<text transform="translate(13.50 421.50) rotate(-90)" font-size="11.75" text-anchor="middle" font-weight="normal" font-style="normal" >Spleen weight (mg)</text>
<circle cx="60.80" cy="383.50" r="2.8" fill="#000"/>
<circle cx="63.50" cy="387.00" r="2.8" fill="#000"/>
<circle cx="57.70" cy="389.30" r="2.8" fill="#000"/>
<circle cx="60.80" cy="397.30" r="2.8" fill="#000"/>
<circle cx="60.80" cy="403.90" r="2.8" fill="#000"/>
<circle cx="93.10" cy="378.40" r="2.8" fill="#000"/>
<circle cx="95.80" cy="381.20" r="2.8" fill="#000"/>
<circle cx="90.00" cy="383.80" r="2.8" fill="#000"/>
<circle cx="93.10" cy="389.30" r="2.8" fill="#000"/>
<circle cx="93.10" cy="400.70" r="2.8" fill="#000"/>
<line x1="50.00" y1="392.40" x2="71.50" y2="392.40" stroke="#000" stroke-width="1.6" stroke-linecap="butt"/>
<line x1="82.30" y1="386.50" x2="103.80" y2="386.50" stroke="#000" stroke-width="1.6" stroke-linecap="butt"/>
<text transform="translate(68.30 489.80) rotate(-45)" font-size="11" text-anchor="end" font-weight="normal" font-style="normal" >WT</text>
<text transform="translate(100.00 487.20) rotate(-45)" font-size="10.8" text-anchor="end" font-weight="normal" font-style="italic" >Ezh1<tspan font-size="6.4" dy="-4.2">-/-</tspan></text>
<line x1="167.30" y1="375.60" x2="167.30" y2="473.50" stroke="#000" stroke-width="1.45" stroke-linecap="butt"/>
<line x1="163.30" y1="376.00" x2="167.30" y2="376.00" stroke="#000" stroke-width="1.45" stroke-linecap="butt"/>
<text transform="translate(160.50 379.60)" font-size="9" text-anchor="end" font-weight="normal" font-style="normal" >150</text>
<line x1="163.30" y1="408.20" x2="167.30" y2="408.20" stroke="#000" stroke-width="1.45" stroke-linecap="butt"/>
<text transform="translate(160.50 411.80)" font-size="9" text-anchor="end" font-weight="normal" font-style="normal" >100</text>
<line x1="163.30" y1="440.60" x2="167.30" y2="440.60" stroke="#000" stroke-width="1.45" stroke-linecap="butt"/>
<text transform="translate(160.50 444.20)" font-size="9" text-anchor="end" font-weight="normal" font-style="normal" >50</text>
<line x1="163.30" y1="472.90" x2="167.30" y2="472.90" stroke="#000" stroke-width="1.45" stroke-linecap="butt"/>
<text transform="translate(160.50 476.50)" font-size="9" text-anchor="end" font-weight="normal" font-style="normal" >0</text>
<line x1="163.30" y1="472.90" x2="232.00" y2="472.90" stroke="#000" stroke-width="1.45" stroke-linecap="butt"/>
<line x1="183.60" y1="472.90" x2="183.60" y2="477.10" stroke="#000" stroke-width="1.45" stroke-linecap="butt"/>
<line x1="215.70" y1="472.90" x2="215.70" y2="477.10" stroke="#000" stroke-width="1.45" stroke-linecap="butt"/>
<text transform="translate(131.30 422.20) rotate(-90)" font-size="11.9" text-anchor="middle" font-weight="normal" font-style="normal" >Thymus weight (mg)</text>
<circle cx="181.00" cy="423.40" r="2.8" fill="#000"/>
<circle cx="186.40" cy="420.80" r="2.8" fill="#000"/>
<circle cx="183.80" cy="435.30" r="2.8" fill="#000"/>
<circle cx="180.40" cy="443.30" r="2.8" fill="#000"/>
<circle cx="186.40" cy="440.60" r="2.8" fill="#000"/>
<circle cx="216.00" cy="395.60" r="2.8" fill="#000"/>
<circle cx="213.10" cy="413.10" r="2.8" fill="#000"/>
<circle cx="218.90" cy="411.00" r="2.8" fill="#000"/>
<circle cx="216.00" cy="419.20" r="2.8" fill="#000"/>
<circle cx="216.00" cy="440.80" r="2.8" fill="#000"/>
<line x1="172.90" y1="432.60" x2="194.10" y2="432.60" stroke="#000" stroke-width="1.6" stroke-linecap="butt"/>
<line x1="205.20" y1="415.80" x2="226.80" y2="415.80" stroke="#000" stroke-width="1.6" stroke-linecap="butt"/>
<text transform="translate(193.20 490.70) rotate(-45)" font-size="11" text-anchor="end" font-weight="normal" font-style="normal" >WT</text>
<text transform="translate(224.10 487.20) rotate(-45)" font-size="10.8" text-anchor="end" font-weight="normal" font-style="italic" >Ezh1<tspan font-size="6.4" dy="-4.2">-/-</tspan></text>
</svg>
</body></html>
